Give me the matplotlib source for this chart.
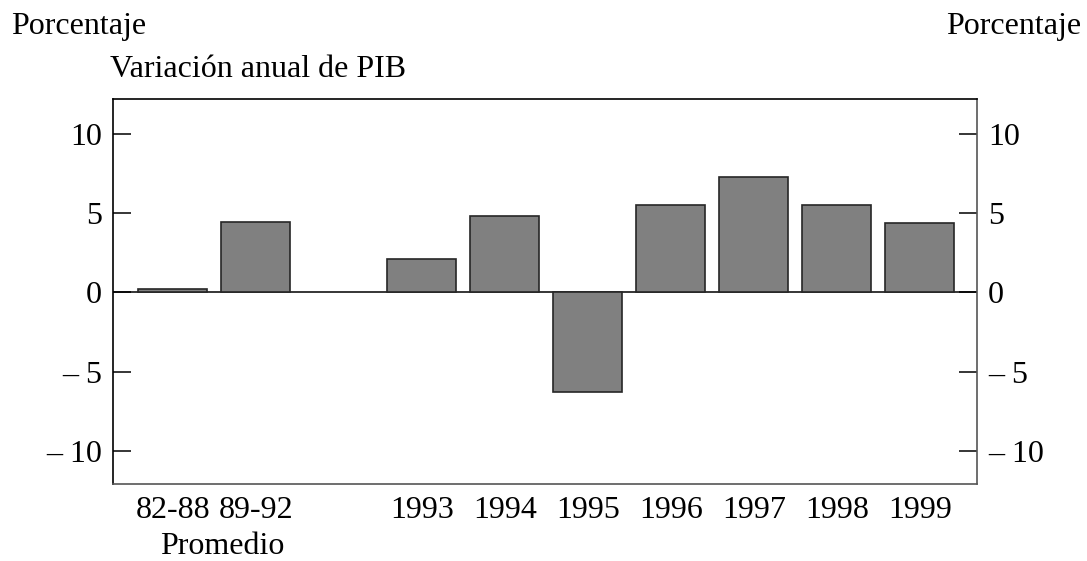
import numpy as np
import matplotlib.pyplot as plt

plt.rcParams['font.family'] = ['Liberation Serif', 'DejaVu Serif']

# data
labels = ['82-88', '89-92', '1993', '1994', '1995', '1996', '1997', '1998', '1999']
positions = [0, 1, 3, 4, 5, 6, 7, 8, 9]  # blank slot between averages and years
values = [0.2, 4.45, 2.1, 4.8, -6.3, 5.5, 7.25, 5.5, 4.35]
yticks = [-10, -5, 0, 5, 10]

fs = 23

def fmt(v):
    return '\u2013 %d' % abs(v) if v < 0 else '%d' % v

fig = plt.figure(figsize=(10.87, 5.61), dpi=100)
ax = fig.add_axes([113 / 1087, 1 - 484 / 561, (977 - 113) / 1087, (484 - 99) / 561])

ax.bar(positions, values, width=0.83, color='#808080', edgecolor='#262626',
       linewidth=1.2, zorder=3)
ax.axhline(0, color='black', linewidth=1.1, zorder=2)

ax.set_xlim(-0.72, 9.69)
ax.set_ylim(-12.1, 12.2)

ax.set_xticks(positions)
ax.set_xticklabels(labels, fontsize=fs)
ax.tick_params(axis='x', length=0, pad=9)

ax.set_yticks(yticks)
ax.set_yticklabels([fmt(v) for v in yticks], fontsize=fs)
ax.tick_params(axis='y', direction='in', length=13, width=1.1, pad=8,
               left=True, right=True, labelleft=True, labelright=True)
for t in ax.get_yticklabels():
    t.set_fontsize(fs)

ax.spines['left'].set_color('black')
ax.spines['top'].set_color('black')
ax.spines['right'].set_color('#555555')
ax.spines['bottom'].set_color('#555555')
for s in ax.spines.values():
    s.set_linewidth(1.2)

fig.text(11 / 1087, 1 - 34 / 561, 'Porcentaje', fontsize=fs, va='baseline', ha='left')
fig.text(1081 / 1087, 1 - 34 / 561, 'Porcentaje', fontsize=fs, va='baseline', ha='right')
fig.text(110 / 1087, 1 - 77 / 561, 'Variación anual de PIB', fontsize=fs,
         va='baseline', ha='left')
fig.text(222 / 1087, 1 - 554 / 561, 'Promedio', fontsize=fs, va='baseline', ha='center')

fig.savefig('out.png', dpi=100, facecolor='white')
